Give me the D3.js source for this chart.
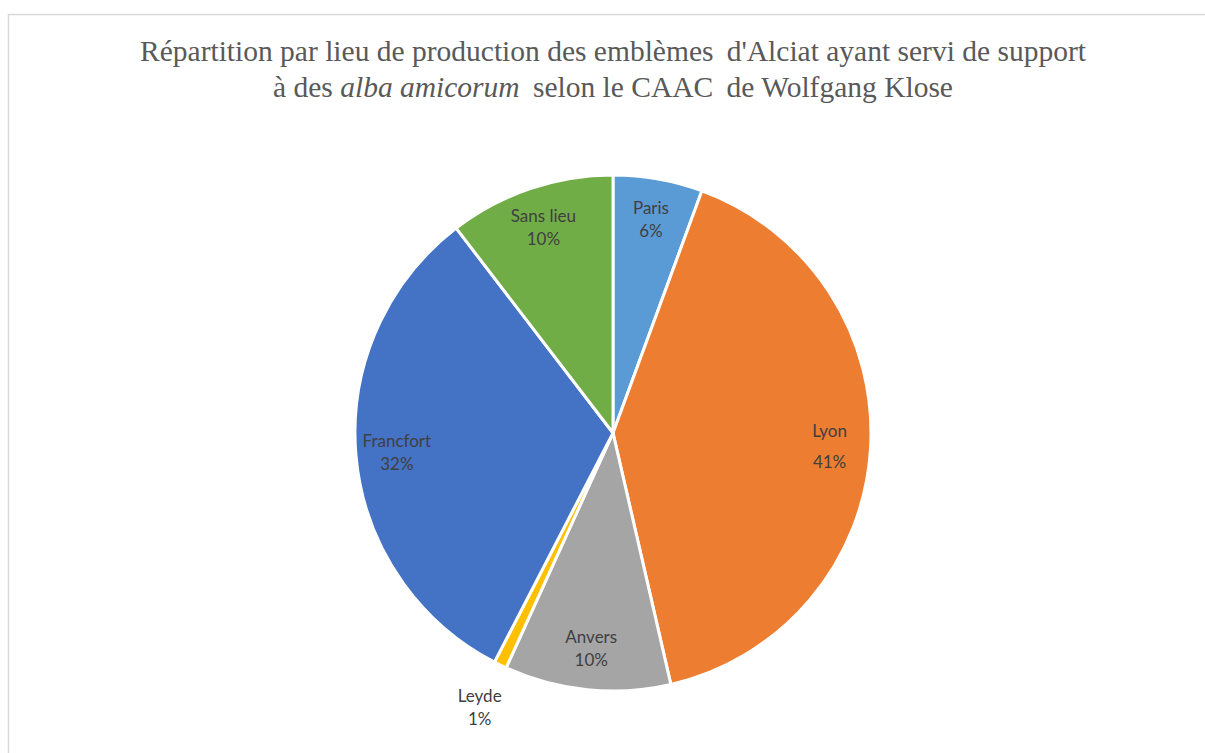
<!DOCTYPE html>
<html>
<head>
<meta charset="utf-8">
<script src="https://cdn.jsdelivr.net/npm/d3@7"></script>
<style>
  html, body { margin: 0; padding: 0; background: #fff; }
  svg { display: block; }
</style>
</head>
<body>
<svg id="chart" width="1205" height="753"></svg>
<script>
const categories = ["Paris", "Lyon", "Anvers", "Leyde", "Francfort", "Sans lieu"];
const values = [7, 51, 13, 1, 40, 13];
const colors = ["#5b9bd5", "#ed7d31", "#a5a5a5", "#ffc000", "#4472c4", "#70ad47"];
const titleLine1 = "Répartition par lieu de production des emblèmes\u2009 d'Alciat ayant servi de support";
const titleLine2Parts = [
  { text: "à des ", italic: false },
  { text: "alba amicorum", italic: true },
  { text: "\u2009 selon le CAAC\u2009 de Wolfgang Klose", italic: false }
];

const svg = d3.select("#chart");
const W = 1205, H = 753;

svg.append("rect")
  .attr("x", 8.5).attr("y", 14.5)
  .attr("width", W + 20).attr("height", H + 20)
  .attr("fill", "#fff")
  .attr("stroke", "#d9d9d9")
  .attr("stroke-width", 1.5);

const titleG = svg.append("g")
  .attr("font-family", "'Liberation Serif', 'Times New Roman', serif")
  .attr("font-size", 29.5)
  .attr("fill", "#595959")
  .attr("text-anchor", "middle");
titleG.append("text").attr("x", 613).attr("y", 61).text(titleLine1);
const t2 = titleG.append("text").attr("x", 613).attr("y", 97);
titleLine2Parts.forEach(p => {
  t2.append("tspan").attr("font-style", p.italic ? "italic" : "normal").text(p.text);
});

const cx = 613, cy = 433, R = 258;
const data = categories.map((c, i) => ({ name: c, value: values[i], color: colors[i] }));
const total = d3.sum(values);
const pie = d3.pie().value(d => d.value).sort(null);
const arcs = pie(data);
const arc = d3.arc().innerRadius(0).outerRadius(R);

const g = svg.append("g").attr("transform", `translate(${cx},${cy})`);
g.selectAll("path.slice")
  .data(arcs)
  .join("path")
  .attr("class", "slice")
  .attr("d", arc)
  .attr("fill", d => d.data.color)
  .attr("stroke", "#fff")
  .attr("stroke-width", 3)
  .attr("stroke-linejoin", "miter");

const labelArc = d3.arc().innerRadius(217).outerRadius(217);
const outerLabelArc = d3.arc().innerRadius(305).outerRadius(305);
const fmt = v => Math.round(v / total * 100) + "%";

const lg = g.append("g")
  .attr("font-family", "Lato, 'Open Sans', 'Noto Sans', sans-serif")
  .attr("font-size", 17)
  .attr("fill", "#404040")
  .attr("text-anchor", "middle");

arcs.forEach(a => {
  const small = (a.endAngle - a.startAngle) < 0.15;
  const [x, y] = (small ? outerLabelArc : labelArc).centroid(a);
  const gap = a.data.name === "Lyon" ? 31 : 23;
  const t = lg.append("text").attr("x", x).attr("y", y);
  t.append("tspan").attr("x", x).attr("y", y - gap / 2 + 6).text(a.data.name);
  t.append("tspan").attr("x", x).attr("y", y + gap / 2 + 6).text(fmt(a.data.value));
});
</script>
</body>
</html>
